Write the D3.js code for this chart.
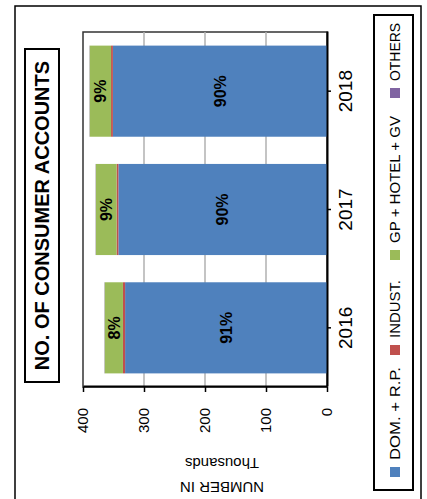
<!DOCTYPE html>
<html><head><meta charset="utf-8">
<script src="https://cdn.jsdelivr.net/npm/d3@7"></script>
<style>body{margin:0;background:#fff}svg{display:block}text{font-family:"Liberation Sans",Arial,sans-serif;fill:#000}</style>
</head><body><svg id="c" width="427" height="499"></svg>
<script>
const years = ["2016", "2017", "2018"];
const seriesNames = ["DOM. + R.P.", "INDUST.", "GP + HOTEL + GV", "OTHERS"];
const domRP = [331, 342, 351];
const indust = [3.5, 3, 3];
const gpHotelGv = [30, 34, 35];
const others = [0.4, 0.4, 0.4];
const valueTicks = [0, 100, 200, 300, 400];
const colors = ["#4F81BD", "#C0504D", "#9BBB59", "#8064A2"];
const title = "NO. OF CONSUMER ACCOUNTS";
const axisTitle = ["NUMBER IN", "Thousands"];

const keys = ["dom", "ind", "gp", "oth"];
const rows = years.map((yr, i) => ({year: yr, dom: domRP[i], ind: indust[i], gp: gpHotelGv[i], oth: others[i]}));
const totals = rows.map(r => r.dom + r.ind + r.gp + r.oth);

const svg = d3.select("#c");
svg.append("rect").attr("width", 427).attr("height", 499).attr("fill", "#fff");
// chart drawn in its natural (column) frame, then turned a quarter-turn
const g = svg.append("g").attr("transform", "translate(0,499) rotate(-90)");

g.append("rect").attr("x", -5).attr("y", 15).attr("width", 498).attr("height", 406)
  .attr("fill", "#fff").attr("stroke", "#000").attr("stroke-width", 1.5);

const x = d3.scaleBand().domain(years).range([112, 467]).paddingInner(0.23).paddingOuter(0.115);
const y = d3.scaleLinear().domain([0, 400]).range([327, 83]);

// plot frame
g.append("rect").attr("x", 112).attr("y", 83).attr("width", 355).attr("height", 244)
  .attr("fill", "none").attr("stroke", "#333").attr("stroke-width", 1.5);

// gridlines
g.selectAll(".grid").data(valueTicks.filter(v => v > 0 && v < 400)).join("line")
  .attr("x1", 112).attr("x2", 467).attr("y1", d => y(d)).attr("y2", d => y(d))
  .attr("stroke", "#b0b0b0").attr("stroke-width", 1.5);

const stack = d3.stack().keys(keys)(rows);
const layers = g.selectAll(".layer").data(stack).join("g").attr("fill", (d, i) => colors[i]);
layers.selectAll("rect").data(d => d).join("rect")
  .attr("x", d => x(d.data.year)).attr("width", x.bandwidth())
  .attr("y", d => y(d[1])).attr("height", d => y(d[0]) - y(d[1]));

// percentage labels
stack.forEach((layer, li) => {
  layer.forEach((d, i) => {
    if (y(d[0]) - y(d[1]) < 14) return;
    g.append("text").attr("x", x(d.data.year) + x.bandwidth() / 2)
      .attr("y", (y(d[0]) + y(d[1])) / 2).attr("dy", "0.36em")
      .attr("text-anchor", "middle").attr("font-weight", "bold").attr("font-size", 16)
      .text(Math.round((d[1] - d[0]) / totals[i] * 100) + "%");
  });
});

// value axis
const ya = g.append("g").attr("transform", "translate(112,0)")
  .call(d3.axisLeft(y).tickValues(valueTicks).tickSize(5).tickSizeOuter(0).tickPadding(16));
ya.select(".domain").attr("stroke", "#000").attr("stroke-width", 2);
ya.selectAll(".tick line").attr("stroke", "#000").attr("stroke-width", 1.5);
ya.selectAll("text").attr("font-size", 15).attr("font-family", null).attr("fill", "#000");

// category axis
const xa = g.append("g").attr("transform", "translate(0,327)")
  .call(d3.axisBottom(x).tickSize(4).tickSizeOuter(0).tickPadding(8));
xa.select(".domain").attr("stroke", "#000").attr("stroke-width", 2);
xa.selectAll(".tick line").attr("stroke", "#000").attr("stroke-width", 1.5);
xa.selectAll("text").attr("font-size", 19).attr("font-family", null).attr("fill", "#000");

// axis title
axisTitle.forEach((t, i) => {
  g.append("text").attr("transform", `translate(${12 + i * 24},222) rotate(-90)`)
    .attr("dy", "0.35em").attr("text-anchor", "middle").attr("font-size", 15).text(t);
});

// title box
g.append("rect").attr("x", 117).attr("y", 25).attr("width", 333).attr("height", 34)
  .attr("fill", "#fff").attr("stroke", "#000").attr("stroke-width", 2);
g.append("text").attr("x", 283.5).attr("y", 42).attr("dy", "0.36em").attr("text-anchor", "middle")
  .attr("font-weight", "bold").attr("font-size", 20).text(title);

// legend
g.append("rect").attr("x", 9).attr("y", 374).attr("width", 475).attr("height", 39)
  .attr("fill", "#fff").attr("stroke", "#000").attr("stroke-width", 2);
const legendX = [22, 144, 239, 401];
const legendTextLen = [93, 58, 127, 58];
seriesNames.forEach((s, i) => {
  g.append("rect").attr("x", legendX[i]).attr("y", 390).attr("width", 10).attr("height", 10).attr("fill", colors[i]);
  g.append("text").attr("x", legendX[i] + 17).attr("y", 395).attr("dy", "0.36em")
    .attr("font-size", 15).attr("textLength", legendTextLen[i]).attr("lengthAdjust", "spacingAndGlyphs").text(s);
});
</script>
</body></html>
